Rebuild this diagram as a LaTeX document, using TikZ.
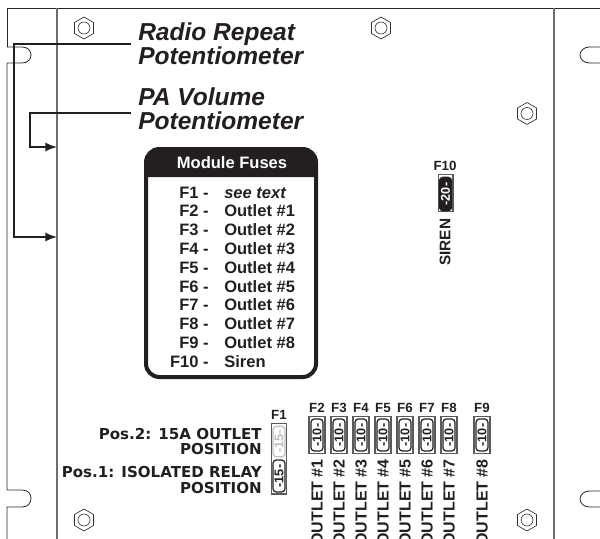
\documentclass[tikz,border=0pt]{standalone}
\usepackage{fontspec}
\setmainfont{Liberation Sans}
\newfontfamily\heavyfont{DejaVu Sans}
\usepackage{tikz}
\tikzset{
  plateline/.style={color={rgb, 255:red, 40; green, 40; blue, 40 },line width=0.6},
  edgeline/.style={color={rgb, 255:red, 110; green, 110; blue, 110 },line width=1.1},
  leader/.style={color={rgb, 255:red, 35; green, 31; blue, 32 },line width=2},
  nut/.style={color={rgb, 255:red, 50; green, 50; blue, 50 },line width=0.5},
  callout/.style={inner sep=0pt,anchor=base west,font=\fontsize{18.4}{20}\selectfont\bfseries\itshape,color={rgb, 255:red, 35; green, 31; blue, 32 }},
  rowkey/.style={inner sep=0pt,anchor=base east,font=\fontsize{12.4}{14}\selectfont\bfseries,color={rgb, 255:red, 35; green, 31; blue, 32 }},
  rowval/.style={inner sep=0pt,anchor=base west,font=\fontsize{12.4}{14}\selectfont\bfseries,color={rgb, 255:red, 35; green, 31; blue, 32 }},
  fusetag/.style={inner sep=0pt,font=\fontsize{10}{12}\selectfont\bfseries,color={rgb, 255:red, 35; green, 31; blue, 32 }},
  outlettag/.style={inner sep=0pt,rotate=90,anchor=east,font=\fontsize{12}{14}\selectfont\bfseries,color={rgb, 255:red, 35; green, 31; blue, 32 }},
  postag/.style={inner sep=0pt,anchor=base east,font=\heavyfont\fontsize{11.3}{13}\selectfont\bfseries,color={rgb, 255:red, 35; green, 31; blue, 32 }},
  fusecase/.style={draw={rgb, 255:red, 90; green, 90; blue, 90 },line width=1,fill=white,minimum width=12pt,minimum height=28pt,inner sep=0pt,rectangle},
  fuseblade/.style={draw={rgb, 255:red, 35; green, 31; blue, 32 },line width=0.9,rounded corners=2.5,fill=white,minimum width=24pt,minimum height=9pt,inner sep=0pt,rotate=90,font=\fontsize{9.5}{10}\selectfont\bfseries,text={rgb, 255:red, 35; green, 31; blue, 32 }},
}
\begin{document}
\begin{tikzpicture}[x=0.75pt,y=0.75pt,yscale=-1,xscale=1]
\useasboundingbox (0,0) rectangle (600,539);

%Plate outline, left side with its two notches
\draw [plateline] (7,47) -- (7,8) -- (600,8) ;
\draw [plateline] (7,47) -- (22,47) .. controls (28,47) and (31,51) .. (31,55) .. controls (31,59) and (28,63) .. (22,63) -- (7,63) ;
\draw [plateline] (7,63) -- (7,490) -- (22,490) .. controls (28,490) and (31,494) .. (31,498) .. controls (31,503) and (28,507) .. (22,507) -- (7,507) -- (7,539) ;
%Plate edges
\draw [edgeline] (57,8) -- (57,539) ;
\draw [edgeline] (554,8) -- (554,539) ;
%Right side notches
\draw [plateline] (600,47) -- (589,47) .. controls (584,47) and (580,51) .. (580,55) .. controls (580,59) and (584,63) .. (589,63) -- (600,63) ;
\draw [plateline] (600,491) -- (589,491) .. controls (584,491) and (580,495) .. (580,499) .. controls (580,503) and (584,507) .. (589,507) -- (600,507) ;

%Shape: Nuts
\draw [nut] (84,17) -- (93.5,22.5) -- (93.5,33.5) -- (84,39) -- (74.5,33.5) -- (74.5,22.5) -- cycle (90,28) arc (0:360:6) ;
\draw [nut] (381,17) -- (390.5,22.5) -- (390.5,33.5) -- (381,39) -- (371.5,33.5) -- (371.5,22.5) -- cycle (387,28) arc (0:360:6) ;
\draw [nut] (527,102.5) -- (536.5,108) -- (536.5,119) -- (527,124.5) -- (517.5,119) -- (517.5,108) -- cycle (533,113.5) arc (0:360:6) ;
\draw [nut] (84,509) -- (93.5,514.5) -- (93.5,525.5) -- (84,531) -- (74.5,525.5) -- (74.5,514.5) -- cycle (90,520) arc (0:360:6) ;
\draw [nut] (527,509) -- (536.5,514.5) -- (536.5,525.5) -- (527,531) -- (517.5,525.5) -- (517.5,514.5) -- cycle (533,520) arc (0:360:6) ;

% Text Node
\node (radio1) [callout] at (138,40.5) {Radio Repeat};
\node (radio2) [callout] at (138,64) {Potentiometer};
\node (pa1) [callout] at (138,105.5) {PA Volume};
\node (pa2) [callout] at (138,129) {Potentiometer};

%Leaders
\coordinate (radiostart) at (131,44);
\coordinate (radiobend) at (14,44);
\coordinate (radiolow) at (14,237);
\coordinate (radioend) at (57,237);
\coordinate (pastart) at (131,113);
\coordinate (pabend) at (30,113);
\coordinate (palow) at (30,147);
\coordinate (paend) at (57,147);
\draw [leader,-latex] (radiostart) -- (radiobend) -- (radiolow) -- (radioend) ;
\draw [leader,-latex] (pastart) -- (pabend) -- (palow) -- (paend) ;

%Module fuses box
\draw [color={rgb, 255:red, 35; green, 31; blue, 32 },line width=3,rounded corners=10] (146,149) rectangle (316,377) ;
\fill [color={rgb, 255:red, 35; green, 31; blue, 32 }] (146,177) [rounded corners=10] -- (146,149) -- (316,149) -- (316,165) [sharp corners] -- (316,177) -- cycle ;
\node (boxhead) [inner sep=0pt,text=white,font=\fontsize{12.4}{14}\selectfont\bfseries] at (232,163) {Module Fuses};

% Text Node
\node (key1) [rowkey] at (209,198) {F1 -};
\node (val1) [rowval] at (224,198) {\itshape see text};
\node (key2) [rowkey] at (209,216.8) {F2 -};
\node (val2) [rowval] at (224,216.8) {Outlet \#1};
\node (key3) [rowkey] at (209,235.6) {F3 -};
\node (val3) [rowval] at (224,235.6) {Outlet \#2};
\node (key4) [rowkey] at (209,254.4) {F4 -};
\node (val4) [rowval] at (224,254.4) {Outlet \#3};
\node (key5) [rowkey] at (209,273.2) {F5 -};
\node (val5) [rowval] at (224,273.2) {Outlet \#4};
\node (key6) [rowkey] at (209,292) {F6 -};
\node (val6) [rowval] at (224,292) {Outlet \#5};
\node (key7) [rowkey] at (209,310.8) {F7 -};
\node (val7) [rowval] at (224,310.8) {Outlet \#6};
\node (key8) [rowkey] at (209,329.6) {F8 -};
\node (val8) [rowval] at (224,329.6) {Outlet \#7};
\node (key9) [rowkey] at (209,348.4) {F9 -};
\node (val9) [rowval] at (224,348.4) {Outlet \#8};
\node (key10) [rowkey] at (209,367.2) {F10 -};
\node (val10) [rowval] at (224,367.2) {Siren};

%Siren fuse
\node (f10tag) [fusetag] at (445,166) {F10};
\node (f10case) [fusecase,minimum width=11pt] at (445.5,193) {};
\node (f10blade) [fuseblade,fill={rgb, 255:red, 35; green, 31; blue, 32 },text=white,minimum width=25pt] at (445.5,194) {-20-};
\node (sirentag) [outlettag,font=\fontsize{11.5}{14}\selectfont\bfseries] at (445,218.5) {SIREN};

%Outlet fuses
\node (f2tag) [fusetag] at (317,408) {F2};
\node (f2case) [fusecase] at (317,435) {};
\node (f2blade) [fuseblade] at (317,435) {-10-};
\node (f2out) [outlettag] at (317,459) {OUTLET \#1};
\node (f3tag) [fusetag] at (339,408) {F3};
\node (f3case) [fusecase] at (339,435) {};
\node (f3blade) [fuseblade] at (339,435) {-10-};
\node (f3out) [outlettag] at (339,459) {OUTLET \#2};
\node (f4tag) [fusetag] at (361,408) {F4};
\node (f4case) [fusecase] at (361,435) {};
\node (f4blade) [fuseblade] at (361,435) {-10-};
\node (f4out) [outlettag] at (361,459) {OUTLET \#3};
\node (f5tag) [fusetag] at (383,408) {F5};
\node (f5case) [fusecase] at (383,435) {};
\node (f5blade) [fuseblade] at (383,435) {-10-};
\node (f5out) [outlettag] at (383,459) {OUTLET \#4};
\node (f6tag) [fusetag] at (405,408) {F6};
\node (f6case) [fusecase] at (405,435) {};
\node (f6blade) [fuseblade] at (405,435) {-10-};
\node (f6out) [outlettag] at (405,459) {OUTLET \#5};
\node (f7tag) [fusetag] at (427,408) {F7};
\node (f7case) [fusecase] at (427,435) {};
\node (f7blade) [fuseblade] at (427,435) {-10-};
\node (f7out) [outlettag] at (427,459) {OUTLET \#6};
\node (f8tag) [fusetag] at (449,408) {F8};
\node (f8case) [fusecase] at (449,435) {};
\node (f8blade) [fuseblade] at (449,435) {-10-};
\node (f8out) [outlettag] at (449,459) {OUTLET \#7};
\node (f9tag) [fusetag] at (482,408) {F9};
\node (f9case) [fusecase] at (482,435) {};
\node (f9blade) [fuseblade] at (482,435) {-10-};
\node (f9out) [outlettag] at (482,459) {OUTLET \#8};

%Fuse F1 and its two positions
\node (f1tag) [fusetag] at (279,415) {F1};
\node (f1case) [fusecase,minimum height=53pt,minimum width=11.5pt] at (279,458.5) {};
\node (f1upper) [fuseblade,draw={rgb, 255:red, 190; green, 190; blue, 190 },text={rgb, 255:red, 190; green, 190; blue, 190 },minimum width=23pt] at (279,441.5) {-15-};
\node (f1lower) [fuseblade] at (279,476) {-15-};
% Text Node
\node (pos2a) [postag] at (262,439) {Pos.2: 15A OUTLET};
\node (pos2b) [postag] at (262,454) {POSITION};
\node (pos1a) [postag] at (262,477) {Pos.1: ISOLATED RELAY};
\node (pos1b) [postag] at (262,493) {POSITION};

\end{tikzpicture}
\end{document}
